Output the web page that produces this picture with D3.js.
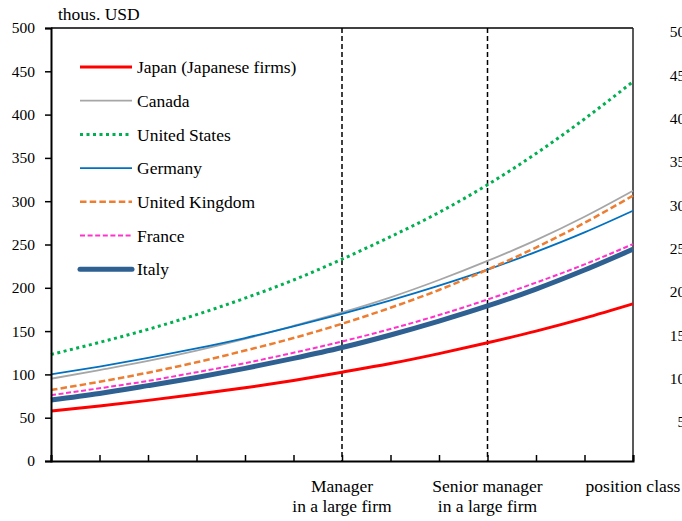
<!DOCTYPE html>
<html><head><meta charset="utf-8">
<script src="https://cdn.jsdelivr.net/npm/d3@7"></script>
<style>
body{margin:0;background:#fff;overflow:hidden}
svg{display:block}
svg text{font-family:"Liberation Serif","Tinos","Times New Roman","Times","DejaVu Serif","Noto Serif",serif !important;fill:#000}
</style></head><body>
<svg id="c" width="682" height="521"></svg>
<script>
// ---- data ----
const categories = [0,1,2,3,4,5,6,7,8,9,10,11,12];
const categoryLabels = ["","","","","","",["Manager","in a large firm"],"","",["Senior manager","in a large firm"],"","",["position class"]];
const markerCategories = [6, 9];
const yTicks = [0,50,100,150,200,250,300,350,400,450,500];
const yUnit = "thous. USD";

const japan   = [57.7,63.5,70,77,84.5,93,102.5,112.5,124,136.5,150,165,181.5];
const canada  = [95,105,115.5,127.5,141,156,171.5,189,209,231,255,282,312];
const us      = [123,137,152,169,188,209,233,259,287,319,355,395,438];
const germany = [100,109,119,130,142,155.5,170,185.5,202.5,221,241.5,264,289];
const uk      = [82,91.5,102,114,127.5,142,158.5,177,197.5,221,246.5,275,306.5];
const france  = [76,84,92.5,102.5,113,125,138,152.5,168.5,186.5,206,227,250.5];
const italy   = [70.5,78,87,96.5,107,118.5,131,145.5,161.5,179,198.5,220.5,244.5];

const seriesNames = ["Japan (Japanese firms)","Canada","United States","Germany","United Kingdom","France","Italy"];
const seriesValues = [japan, canada, us, germany, uk, france, italy];

// ---- styles ----
const FONT = '"Liberation Serif","Tinos","Times New Roman","Times","DejaVu Serif","Noto Serif",serif';
const styles = [
  {color:"#FF0000", width:3, dash:null},
  {color:"#A6A6A6", width:1.8, dash:null},
  {color:"#00B050", width:3, dash:"3 3.5"},
  {color:"#0070C0", width:1.8, dash:null},
  {color:"#ED7D31", width:2.5, dash:"6.5 3.2"},
  {color:"#FF33CC", width:2, dash:"5 2.6"},
  {color:"#2F6092", width:5, dash:null}
];

const svg = d3.select("#c");
const L = 51, R = 633, T = 28, B = 461;
const x = d3.scalePoint().domain(categories).range([L, R]);
const y = d3.scaleLinear().domain([0, 500]).range([B, T]);

// frame top/right
svg.append("line").attr("x1",L).attr("x2",R).attr("y1",T).attr("y2",T).attr("stroke","#000").attr("stroke-width",1.5);
svg.append("line").attr("x1",R).attr("x2",R).attr("y1",T).attr("y2",B).attr("stroke","#222").attr("stroke-width",1.5);

// vertical dashed marker lines
svg.selectAll(".vm").data(markerCategories).enter().append("line")
  .attr("x1",d=>x(d)).attr("x2",d=>x(d)).attr("y1",T).attr("y2",B)
  .attr("stroke","#000").attr("stroke-width",1.5).attr("stroke-dasharray","5 3");

// series lines
const line = d3.line().x((d,i)=>x(categories[i])).y(d=>y(d)).curve(d3.curveMonotoneX);
seriesValues.forEach((vals, k) => {
  const s = styles[k];
  svg.append("path").datum(vals).attr("d", line)
    .attr("fill","none").attr("stroke", s.color).attr("stroke-width", s.width)
    .attr("stroke-dasharray", s.dash).attr("stroke-linejoin","round");
});

// left axis
const yAxis = d3.axisLeft(y).tickValues(yTicks).tickSize(6).tickPadding(10);
const gy = svg.append("g").attr("transform",`translate(${L},0)`).call(yAxis).attr("font-family",FONT);
gy.select(".domain").attr("stroke","#000").attr("stroke-width",2);
gy.selectAll(".tick line").attr("stroke","#000").attr("stroke-width",1.5);
gy.selectAll(".tick text").attr("font-family",FONT).style("font-size","15.5px").attr("fill","#000");

// right axis (labels partly cut by viewport)
svg.append("g").selectAll("text").data(yTicks.filter(v=>v>0)).enter().append("text")
  .attr("x", 693).attr("y", d=>y(d)+4).attr("dy","0.35em").attr("text-anchor","end")
  .attr("font-family",FONT).style("font-size","15.5px").text(d=>d);

// bottom axis
const xAxis = d3.axisBottom(x).tickValues(categories).tickSize(-6).tickFormat("");
const gx = svg.append("g").attr("transform",`translate(0,${B})`).call(xAxis);
gx.select(".domain").attr("stroke","#000").attr("stroke-width",2);
gx.selectAll(".tick line").attr("stroke","#000").attr("stroke-width",1.5);

// category labels
categories.forEach((c,i)=>{
  const lab = categoryLabels[i];
  if(!lab) return;
  const t = svg.append("text").attr("text-anchor","middle").attr("font-family",FONT).style("font-size","17.5px");
  lab.forEach((ln,j)=>{
    t.append("tspan").attr("x", x(c)).attr("y", 492 + j*20).text(ln);
  });
});

// unit label
svg.append("text").attr("x",58).attr("y",20).attr("font-family",FONT).style("font-size","17.5px").text(yUnit);

// legend
const legY0 = 67, legDY = 33.7;
seriesNames.forEach((n,k)=>{
  const s = styles[k];
  const yy = legY0 + k*legDY;
  svg.append("line").attr("x1",80).attr("x2",132).attr("y1",yy).attr("y2",yy)
    .attr("stroke",s.color).attr("stroke-width",s.width).attr("stroke-dasharray",s.dash)
    .attr("stroke-linecap", k===6 ? "round" : "butt");
  svg.append("text").attr("x",137).attr("y",yy).attr("dy","0.35em").attr("font-family",FONT).style("font-size","17.5px").text(n);
});
</script>
</body></html>
